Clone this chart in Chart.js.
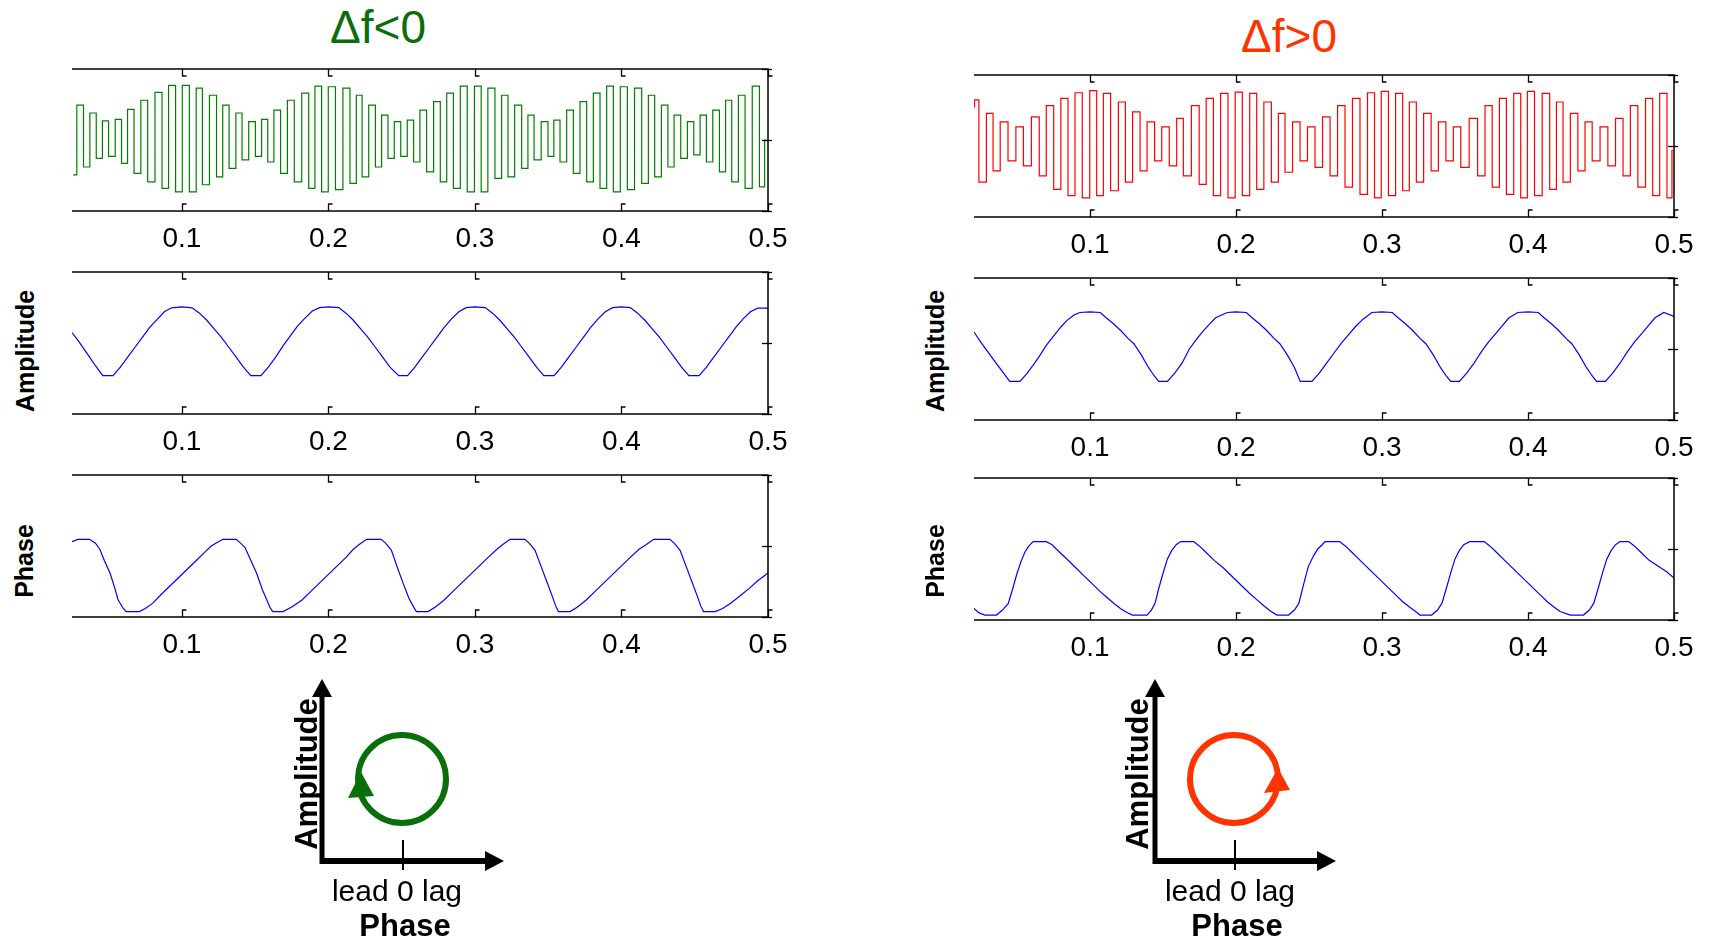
<!DOCTYPE html>
<html>
<head>
<meta charset="utf-8">
<script src="https://cdn.jsdelivr.net/npm/chart.js"></script>
<style>
  body { margin: 0; background: #fff; }
  #wrap { position: relative; width: 1711px; height: 940px; overflow: hidden; font-family: "Liberation Sans", Arial, sans-serif; }
  canvas { position: absolute; }
  .t { position: absolute; white-space: nowrap; line-height: 1; transform: translate(-50%, -50%); }
  .r { transform: translate(-50%, -50%) rotate(-90deg); }
  .b { font-weight: bold; }
</style>
</head>
<body>
<div id="wrap">
  <div class="t" style="left:378px;top:27px;font-size:46px;color:#0a6e0a">&Delta;f&lt;0</div>
  <div class="t" style="left:1289px;top:36px;font-size:46px;color:#ff3300">&Delta;f&gt;0</div>

  <canvas id="topL"></canvas>
  <canvas id="ampL"></canvas>
  <canvas id="phL"></canvas>
  <canvas id="topR"></canvas>
  <canvas id="ampR"></canvas>
  <canvas id="phR"></canvas>

  <div class="t r b" style="left:25px;top:351px;font-size:25px">Amplitude</div>
  <div class="t r b" style="left:24px;top:561px;font-size:25px">Phase</div>
  <div class="t r b" style="left:935px;top:351px;font-size:25px">Amplitude</div>
  <div class="t r b" style="left:935px;top:561px;font-size:25px">Phase</div>

  <svg width="1711" height="940" style="position:absolute;left:0;top:0">
    <!-- left sketch -->
    <line x1="322" y1="864" x2="322" y2="694" stroke="#000" stroke-width="5"/>
    <polygon points="322,679 312,697 332,697" fill="#000"/>
    <line x1="320" y1="861" x2="488" y2="861" stroke="#000" stroke-width="6"/>
    <polygon points="504,861 485,851 485,871" fill="#000"/>
    <line x1="403" y1="840" x2="403" y2="870" stroke="#000" stroke-width="2"/>
    <circle cx="402" cy="779" r="44" fill="none" stroke="#0a6e0a" stroke-width="6"/>
    <polygon points="361,772 348,798 374,796" fill="#0a6e0a"/>
    <!-- right sketch -->
    <line x1="1155" y1="864" x2="1155" y2="694" stroke="#000" stroke-width="5"/>
    <polygon points="1155,679 1145,697 1165,697" fill="#000"/>
    <line x1="1153" y1="861" x2="1320" y2="861" stroke="#000" stroke-width="6"/>
    <polygon points="1336,861 1317,851 1317,871" fill="#000"/>
    <line x1="1235" y1="840" x2="1235" y2="870" stroke="#000" stroke-width="2"/>
    <circle cx="1234" cy="779" r="44" fill="none" stroke="#ff3300" stroke-width="6"/>
    <polygon points="1278,768 1264,793 1290,790" fill="#ff3300"/>
  </svg>

  <div class="t r b" style="left:306px;top:774px;font-size:31px">Amplitude</div>
  <div class="t" style="left:397px;top:891px;font-size:30px">lead 0 lag</div>
  <div class="t b" style="left:405px;top:925px;font-size:31px">Phase</div>
  <div class="t r b" style="left:1137px;top:774px;font-size:31px">Amplitude</div>
  <div class="t" style="left:1230px;top:891px;font-size:30px">lead 0 lag</div>
  <div class="t b" style="left:1237px;top:925px;font-size:31px">Phase</div>
</div>

<script>
// tick labels shared by all six panels
var xTicks = [0.1, 0.2, 0.3, 0.4, 0.5];

// Δf<0, raw signal: time of each turning point and its value
var carrierTimeL = [0.0258,0.0308,0.0349,0.0395,0.0436,0.0479,0.0520,0.0570,0.0606,0.0652,0.0695,0.0745,0.0788,0.0845,0.0884,0.0934,0.0980,
  0.1025,0.1077,0.1118,0.1162,0.1214,0.1259,0.1298,0.1346,0.1391,0.1430,0.1482,0.1521,0.1567,0.1605,0.1651,0.1696,0.1744,0.1790,0.1846,0.1885,0.1931,0.1976,
  0.2022,0.2074,0.2124,0.2170,0.2211,0.2249,0.2301,0.2340,0.2386,0.2427,0.2472,0.2515,0.2561,0.2602,0.2647,0.2693,0.2743,0.2784,0.2831,0.2875,0.2925,0.2970,
  0.3023,0.3062,0.3114,0.3159,0.3205,0.3246,0.3296,0.3342,0.3381,0.3426,0.3478,0.3519,0.3558,0.3603,0.3649,0.3694,0.3740,0.3785,0.3831,0.3876,0.3922,0.3967,
  0.4017,0.4063,0.4115,0.4161,0.4206,0.4247,0.4298,0.4336,0.4382,0.4427,0.4473,0.4514,0.4559,0.4600,0.4646,0.4691,0.4730,0.4775,0.4821,0.4866,0.4919,0.4964,0.4990];
var carrierValL = [-0.49,0.49,-0.38,0.38,-0.26,0.27,-0.23,0.29,-0.33,0.43,-0.47,0.56,-0.59,0.67,-0.68,0.77,-0.73,
  0.77,-0.73,0.73,-0.63,0.63,-0.52,0.49,-0.40,0.38,-0.28,0.26,-0.23,0.29,-0.31,0.42,-0.47,0.56,-0.59,0.66,-0.68,0.76,-0.73,
  0.75,-0.70,0.73,-0.61,0.63,-0.52,0.49,-0.38,0.35,-0.26,0.26,-0.23,0.28,-0.31,0.42,-0.45,0.54,-0.59,0.66,-0.68,0.76,-0.73,
  0.76,-0.73,0.73,-0.54,0.63,-0.52,0.49,-0.40,0.35,-0.28,0.26,-0.23,0.28,-0.31,0.42,-0.47,0.54,-0.59,0.66,-0.68,0.76,-0.73,
  0.75,-0.70,0.73,-0.61,0.63,-0.52,0.49,-0.38,0.35,-0.26,0.26,-0.21,0.35,-0.31,0.42,-0.45,0.56,-0.59,0.63,-0.68,0.76,-0.66,0.00];

// Δf<0, amplitude
var ampTimeL = [0.025,0.029,0.033,0.037,0.041,0.046,0.053,0.058,0.063,0.068,0.073,0.078,0.083,0.088,0.093,0.100,0.107,0.112,0.117,0.122,0.127,0.132,0.137,0.142,0.147,
  0.154,0.159,0.164,0.169,0.174,0.179,0.184,0.189,0.194,0.200,0.207,0.212,0.217,0.222,0.227,0.232,0.237,0.242,0.248,
  0.254,0.259,0.264,0.269,0.274,0.279,0.284,0.289,0.294,0.300,0.307,0.312,0.317,0.322,0.327,0.332,0.337,0.342,0.347,
  0.354,0.359,0.364,0.369,0.374,0.379,0.384,0.389,0.394,0.400,0.406,0.411,0.416,0.421,0.426,0.431,0.436,0.441,0.446,
  0.453,0.458,0.463,0.468,0.473,0.478,0.483,0.488,0.493,0.500];
var ampValL = [0.573,0.52,0.46,0.40,0.34,0.27,0.27,0.33,0.40,0.47,0.54,0.61,0.665,0.72,0.748,0.755,0.748,0.71,0.66,0.60,0.54,0.47,0.40,0.33,0.27,
  0.27,0.33,0.40,0.48,0.55,0.62,0.675,0.725,0.749,0.755,0.749,0.71,0.66,0.60,0.54,0.47,0.40,0.33,0.27,
  0.27,0.33,0.40,0.47,0.54,0.61,0.67,0.72,0.749,0.755,0.749,0.71,0.66,0.60,0.54,0.47,0.40,0.33,0.27,
  0.27,0.33,0.40,0.47,0.54,0.61,0.67,0.72,0.749,0.755,0.749,0.71,0.66,0.60,0.54,0.47,0.40,0.33,0.27,
  0.27,0.33,0.40,0.47,0.54,0.61,0.67,0.72,0.745,0.745];

// Δf<0, phase
var phTimeL = [0.025,0.029,0.037,0.041,0.044,0.047,0.051,0.054,0.0565,0.060,0.062,0.071,0.075,0.080,0.086,0.092,0.098,0.104,0.110,0.116,0.120,0.124,
  0.128,0.137,0.140,0.143,0.147,0.151,0.155,0.158,0.160,0.162,0.169,0.175,0.182,0.188,0.194,0.200,0.206,0.212,0.217,0.221,
  0.226,0.236,0.239,0.243,0.247,0.251,0.255,0.258,0.260,0.268,0.273,0.279,0.285,0.291,0.297,0.303,0.309,0.315,0.319,
  0.324,0.334,0.337,0.341,0.345,0.349,0.353,0.355,0.357,0.365,0.370,0.376,0.382,0.388,0.394,0.400,0.406,0.412,0.417,
  0.422,0.433,0.436,0.440,0.444,0.448,0.452,0.454,0.456,0.464,0.469,0.475,0.481,0.487,0.493,0.500];
var phValL = [0.53,0.547,0.547,0.52,0.477,0.40,0.308,0.21,0.12,0.06,0.038,0.038,0.06,0.096,0.16,0.22,0.28,0.34,0.40,0.46,0.50,0.525,
  0.547,0.547,0.52,0.491,0.40,0.308,0.19,0.12,0.07,0.038,0.038,0.07,0.12,0.18,0.24,0.30,0.36,0.42,0.477,0.51,
  0.547,0.547,0.52,0.47,0.35,0.237,0.13,0.073,0.038,0.038,0.07,0.12,0.18,0.24,0.30,0.36,0.42,0.477,0.51,
  0.547,0.547,0.52,0.47,0.36,0.25,0.14,0.08,0.038,0.038,0.07,0.12,0.18,0.24,0.30,0.36,0.42,0.477,0.51,
  0.547,0.547,0.52,0.47,0.36,0.25,0.14,0.08,0.038,0.038,0.06,0.10,0.15,0.20,0.255,0.31];

// Δf>0, raw signal
var carrierTimeR = [0.0205,0.0212,0.0265,0.0315,0.0356,0.0413,0.0463,0.0521,0.0566,0.0630,0.0674,0.0726,0.0776,0.0824,0.0874,0.0920,0.0973,
  0.1023,0.1068,0.1114,0.1167,0.1221,0.1263,0.1320,0.1365,0.1416,0.1468,0.1514,0.1571,0.1616,0.1662,0.1726,0.1769,0.1822,0.1868,0.1920,0.1970,
  0.2018,0.2068,0.2119,0.2164,0.2217,0.2267,0.2313,0.2358,0.2416,0.2461,0.2518,0.2564,0.2621,0.2667,0.2724,0.2769,0.2826,0.2872,0.2929,0.2968,
  0.3021,0.3067,0.3119,0.3164,0.3210,0.3260,0.3310,0.3363,0.3409,0.3466,0.3511,0.3568,0.3626,0.3683,0.3728,0.3781,0.3827,0.3877,0.3927,0.3973,
  0.4018,0.4071,0.4123,0.4174,0.4215,0.4265,0.4315,0.4368,0.4413,0.4466,0.4521,0.4573,0.4626,0.4676,0.4726,0.4779,0.4831,0.4877,0.4927,0.4977,0.4995];
var carrierValR = [0.55,0.65,-0.51,0.46,-0.35,0.34,-0.21,0.27,-0.28,0.41,-0.42,0.57,-0.61,0.67,-0.70,0.75,-0.73,
  0.78,-0.70,0.74,-0.63,0.62,-0.51,0.48,-0.35,0.34,-0.21,0.27,-0.28,0.39,-0.42,0.57,-0.54,0.67,-0.70,0.74,-0.73,
  0.76,-0.70,0.74,-0.61,0.62,-0.51,0.46,-0.37,0.34,-0.21,0.27,-0.30,0.41,-0.42,0.57,-0.58,0.67,-0.68,0.75,-0.73,
  0.77,-0.70,0.74,-0.63,0.62,-0.51,0.46,-0.35,0.34,-0.21,0.27,-0.30,0.39,-0.42,0.57,-0.58,0.67,-0.68,0.74,-0.73,
  0.77,-0.70,0.74,-0.61,0.62,-0.51,0.46,-0.35,0.34,-0.21,0.27,-0.28,0.39,-0.42,0.57,-0.58,0.67,-0.70,0.74,-0.73,-0.06];

// Δf>0, amplitude
var ampTimeR = [0.0205,0.025,0.030,0.035,0.040,0.045,0.052,0.057,0.062,0.066,0.070,0.075,0.080,0.084,0.089,0.093,0.100,0.107,0.111,0.116,0.121,0.126,0.130,0.135,0.140,0.144,0.147,
  0.153,0.158,0.163,0.168,0.173,0.177,0.181,0.186,0.194,0.200,0.207,0.211,0.216,0.221,0.226,0.230,0.235,0.240,0.244,
  0.252,0.257,0.262,0.267,0.272,0.277,0.282,0.287,0.293,0.300,0.307,0.311,0.316,0.321,0.326,0.330,0.335,0.340,0.344,0.347,
  0.353,0.358,0.363,0.368,0.373,0.378,0.382,0.387,0.393,0.400,0.407,0.411,0.416,0.421,0.426,0.430,0.435,0.440,0.444,0.447,
  0.453,0.458,0.463,0.468,0.473,0.478,0.482,0.487,0.493,0.500];
var ampValR = [0.62,0.55,0.48,0.41,0.34,0.272,0.272,0.33,0.40,0.46,0.525,0.59,0.655,0.70,0.74,0.757,0.762,0.757,0.72,0.678,0.63,0.575,0.537,0.46,0.37,0.31,0.272,
  0.272,0.33,0.40,0.50,0.57,0.62,0.667,0.72,0.757,0.762,0.757,0.72,0.678,0.63,0.575,0.537,0.46,0.37,0.272,
  0.272,0.33,0.40,0.47,0.54,0.60,0.66,0.71,0.757,0.762,0.757,0.72,0.678,0.63,0.575,0.537,0.46,0.37,0.31,0.272,
  0.272,0.33,0.40,0.48,0.55,0.61,0.66,0.72,0.757,0.762,0.757,0.72,0.678,0.63,0.575,0.537,0.46,0.37,0.31,0.272,
  0.272,0.33,0.40,0.48,0.55,0.61,0.66,0.72,0.757,0.73];

// Δf>0, phase
var phTimeR = [0.0205,0.024,0.028,0.036,0.040,0.044,0.047,0.050,0.053,0.0555,0.058,0.061,0.070,0.074,0.077,0.083,0.089,0.095,0.101,0.107,0.111,0.116,0.121,0.125,
  0.129,0.139,0.142,0.1445,0.147,0.150,0.153,0.156,0.159,0.162,0.171,0.175,0.179,0.185,0.191,0.197,0.203,0.209,0.214,0.219,0.224,
  0.228,0.236,0.240,0.243,0.246,0.2495,0.253,0.256,0.259,0.261,0.271,0.275,0.279,0.285,0.291,0.297,0.303,0.309,0.314,0.319,0.323,
  0.326,0.334,0.338,0.341,0.344,0.347,0.350,0.353,0.356,0.360,0.370,0.374,0.378,0.384,0.390,0.396,0.402,0.408,0.413,0.418,0.422,
  0.429,0.438,0.442,0.445,0.448,0.451,0.454,0.457,0.460,0.463,0.469,0.473,0.477,0.483,0.489,0.495,0.500];
var phValR = [0.082,0.05,0.035,0.035,0.07,0.117,0.22,0.329,0.42,0.481,0.52,0.552,0.552,0.53,0.498,0.44,0.38,0.32,0.26,0.20,0.164,0.12,0.08,0.055,
  0.035,0.035,0.07,0.117,0.22,0.329,0.43,0.49,0.53,0.552,0.552,0.52,0.481,0.42,0.37,0.31,0.25,0.19,0.145,0.10,0.06,
  0.035,0.035,0.07,0.117,0.24,0.376,0.45,0.50,0.53,0.552,0.552,0.52,0.481,0.42,0.36,0.30,0.24,0.18,0.13,0.09,0.06,
  0.035,0.035,0.07,0.117,0.22,0.33,0.43,0.49,0.53,0.552,0.552,0.52,0.481,0.42,0.36,0.30,0.24,0.18,0.13,0.09,0.06,
  0.035,0.035,0.07,0.117,0.22,0.33,0.43,0.49,0.53,0.552,0.552,0.52,0.481,0.42,0.38,0.34,0.296];

// box, right-hand ticks and the little top/bottom tick marks
var frame = {
  id: 'frame',
  afterDraw: function(chart) {
    var ctx = chart.ctx, a = chart.chartArea, x = chart.scales.x, y = chart.scales.y;
    ctx.save();
    ctx.strokeStyle = '#000';
    ctx.lineWidth = 1.5;
    ctx.beginPath();
    ctx.moveTo(a.left, a.top); ctx.lineTo(a.right, a.top);
    ctx.lineTo(a.right, a.bottom); ctx.lineTo(a.left, a.bottom);
    ctx.stroke();
    ctx.lineWidth = 1.3;
    xTicks.forEach(function(v) {
      var px = Math.round(x.getPixelForValue(v)) + 0.5;
      ctx.beginPath();
      ctx.moveTo(px, a.top); ctx.lineTo(px, a.top + 7); ctx.lineTo(px + 4, a.top + 7);
      ctx.moveTo(px, a.bottom); ctx.lineTo(px, a.bottom - 7); ctx.lineTo(px + 4, a.bottom - 7);
      ctx.stroke();
    });
    [y.min, (y.min + y.max) / 2, y.max].forEach(function(v) {
      var py = Math.round(y.getPixelForValue(v)) + 0.5;
      ctx.beginPath();
      ctx.moveTo(a.right - 6, py); ctx.lineTo(a.right + 4, py);
      ctx.stroke();
    });
    ctx.restore();
  }
};

function panel(id, left, top, width, times, vals, color, xmin, ymin, ymax, stepped) {
  var cv = document.getElementById(id);
  cv.width = width + 40;
  cv.height = 10 + 142 + 50;
  cv.style.left = left + 'px';
  cv.style.top = (top - 10) + 'px';
  var pts = times.map(function(t, i) { return { x: t, y: vals[i] }; });
  new Chart(cv, {
    type: 'line',
    data: { datasets: [{ data: pts, borderColor: color, borderWidth: 1.2, pointRadius: 0, tension: 0, fill: false, stepped: stepped }] },
    options: {
      responsive: false,
      animation: false,
      events: [],
      layout: { padding: { top: 10, right: 40, left: 0, bottom: 0 } },
      plugins: { legend: { display: false }, tooltip: { enabled: false } },
      scales: {
        x: {
          type: 'linear', min: xmin, max: 0.5,
          afterBuildTicks: function(s) { s.ticks = xTicks.map(function(v) { return { value: v }; }); },
          afterFit: function(s) { s.height = 50; },
          grid: { display: false, drawTicks: false },
          border: { display: false },
          ticks: {
            padding: 11, color: '#000', autoSkip: false, maxRotation: 0,
            font: { family: 'Liberation Sans', size: 28 },
            callback: function(v) { return v.toFixed(1); }
          }
        },
        y: { display: false, min: ymin, max: ymax }
      }
    },
    plugins: [frame]
  });
}

panel('topL', 72, 69, 696, carrierTimeL, carrierValL, '#008000', 0.025, -1, 1, 'middle');
panel('ampL', 72, 272, 696, ampTimeL, ampValL, '#0000ff', 0.025, 0, 1, false);
panel('phL', 72, 475, 696, phTimeL, phValL, '#0000ff', 0.025, 0, 1, false);
panel('topR', 974, 75, 700, carrierTimeR, carrierValR, '#ff0000', 0.0205, -1, 1, 'middle');
panel('ampR', 974, 278, 700, ampTimeR, ampValR, '#0000ff', 0.0205, 0, 1, false);
panel('phR', 974, 478, 700, phTimeR, phValR, '#0000ff', 0.0205, 0, 1, false);
</script>
</body>
</html>
